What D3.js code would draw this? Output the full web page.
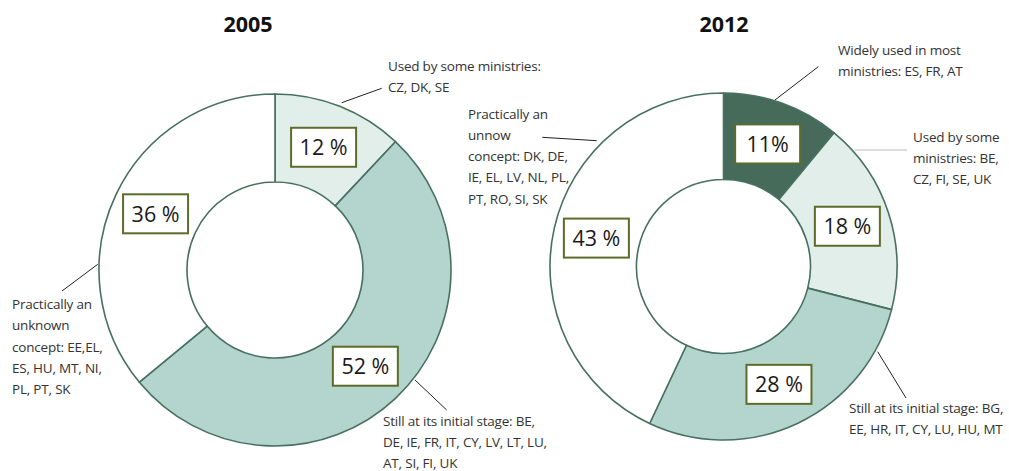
<!DOCTYPE html>
<html>
<head>
<meta charset="utf-8">
<script src="https://cdn.jsdelivr.net/npm/d3@7"></script>
<style>
  html, body { margin: 0; padding: 0; background: #fff; }
  svg { display: block; }
</style>
</head>
<body>
<svg id="chart" width="1009" height="471"></svg>
<script>
// ---------------- DATA ----------------
const years = ["2005", "2012"];

const categories2005 = ["Used by some ministries", "Still at its initial stage", "Practically an unknown concept"];
const values2005 = [12, 52, 36];
const valueLabels2005 = ["12 %", "52 %", "36 %"];
const notes2005 = [
  ["Used by some ministries:", "CZ, DK, SE"],
  ["Still at its initial stage: BE,", "DE, IE, FR, IT, CY, LV, LT, LU,", "AT, SI, FI, UK"],
  ["Practically an", "unknown", "concept: EE,EL,", "ES, HU, MT, NI,", "PL, PT, SK"]
];

const categories2012 = ["Widely used in most ministries", "Used by some ministries", "Still at its initial stage", "Practically an unknown concept"];
const values2012 = [11, 18, 28, 43];
const valueLabels2012 = ["11%", "18 %", "28 %", "43 %"];
const notes2012 = [
  ["Widely used in most", "ministries: ES, FR, AT"],
  ["Used by some", "ministries: BE,", "CZ, FI, SE, UK"],
  ["Still at its initial stage: BG,", "EE, HR, IT, CY, LU, HU, MT"],
  ["Practically an", "unnow", "concept: DK, DE,", "IE, EL, LV, NL, PL,", "PT, RO, SI, SK"]
];

// ---------------- LAYOUT / STYLE ----------------
const colorByCategory = {
  "Widely used in most ministries": "#476b5b",
  "Used by some ministries": "#e1eeea",
  "Still at its initial stage": "#b3d5cd",
  "Practically an unknown concept": "#ffffff"
};

const charts = [
  {
    title: years[0], titleX: 248, cx: 275, cy: 270, rOuter: 176, rInner: 88,
    categories: categories2005, values: values2005, labels: valueLabels2005, notes: notes2005,
    notePos: [[388, 71], [383, 425.5], [12, 309]],
    leaders: [[[341.7, 102.7], [381.7, 88.3]], [[415, 380], [446.7, 410]], [[97.7, 264.3], [62, 291]]],
    leaderColors: ["#222", "#222", "#222"]
  },
  {
    title: years[1], titleX: 724, cx: 723.5, cy: 266.5, rOuter: 173.5, rInner: 87,
    categories: categories2012, values: values2012, labels: valueLabels2012, notes: notes2012,
    notePos: [[838, 55], [913, 141.5], [849, 413], [468, 118.5]],
    leaders: [[[775, 100], [818.3, 66.7]], [[855, 150], [907, 150]], [[877.7, 351.7], [906, 398]], [[596.7, 140.7], [542.3, 137.3]]],
    leaderColors: ["#222", "#bbbbbb", "#222", "#222"]
  }
];

const lineHeight = 21.3;
const svg = d3.select("#chart");

charts.forEach(c => {
  const data = c.categories.map((cat, i) => ({ cat, value: c.values[i], label: c.labels[i], note: c.notes[i] }));
  const pie = d3.pie().sort(null).value(d => d.value);
  const arcs = pie(data);
  const arc = d3.arc().innerRadius(c.rInner).outerRadius(c.rOuter);

  svg.append("text")
    .attr("x", c.titleX).attr("y", 32)
    .attr("text-anchor", "middle")
    .attr("font-family", "'Open Sans', sans-serif")
    .attr("font-weight", 700)
    .attr("font-size", 21.5)
    .attr("fill", "#111")
    .text(c.title);

  const g = svg.append("g").attr("transform", `translate(${c.cx},${c.cy})`);

  g.selectAll("path.slice").data(arcs).enter().append("path")
    .attr("class", "slice")
    .attr("d", arc)
    .attr("fill", d => colorByCategory[d.data.cat])
    .attr("stroke", "#48705f")
    .attr("stroke-width", 1.6)
    .attr("stroke-linejoin", "round");

  // value boxes at arc centroids
  const boxW = 65, boxH = 39;
  const lab = g.selectAll("g.lab").data(arcs).enter().append("g")
    .attr("class", "lab")
    .attr("transform", d => { const p = arc.centroid(d); return `translate(${p[0]},${p[1]})`; });
  lab.append("rect")
    .attr("x", -boxW / 2).attr("y", -boxH / 2)
    .attr("width", boxW).attr("height", boxH)
    .attr("fill", "#fff")
    .attr("stroke", "#5d6c2a")
    .attr("stroke-width", 2);
  lab.append("text")
    .attr("text-anchor", "middle")
    .attr("y", 8)
    .attr("font-family", "'Open Sans', sans-serif")
    .attr("font-size", 21.5)
    .attr("fill", "#1a1a1a")
    .text(d => d.data.label);

  // leader lines
  c.leaders.forEach((l, i) => {
    svg.append("line")
      .attr("x1", l[0][0]).attr("y1", l[0][1])
      .attr("x2", l[1][0]).attr("y2", l[1][1])
      .attr("stroke", c.leaderColors[i])
      .attr("stroke-width", 1);
  });

  // annotations
  data.forEach((d, i) => {
    const t = svg.append("text")
      .attr("font-family", "'Open Sans', sans-serif")
      .attr("font-size", 13.5)
      .attr("letter-spacing", -0.2)
      .attr("fill", "#333");
    d.note.forEach((line, j) => {
      t.append("tspan")
        .attr("x", c.notePos[i][0])
        .attr("y", c.notePos[i][1] + j * lineHeight)
        .text(line);
    });
  });
});
</script>
</body>
</html>
